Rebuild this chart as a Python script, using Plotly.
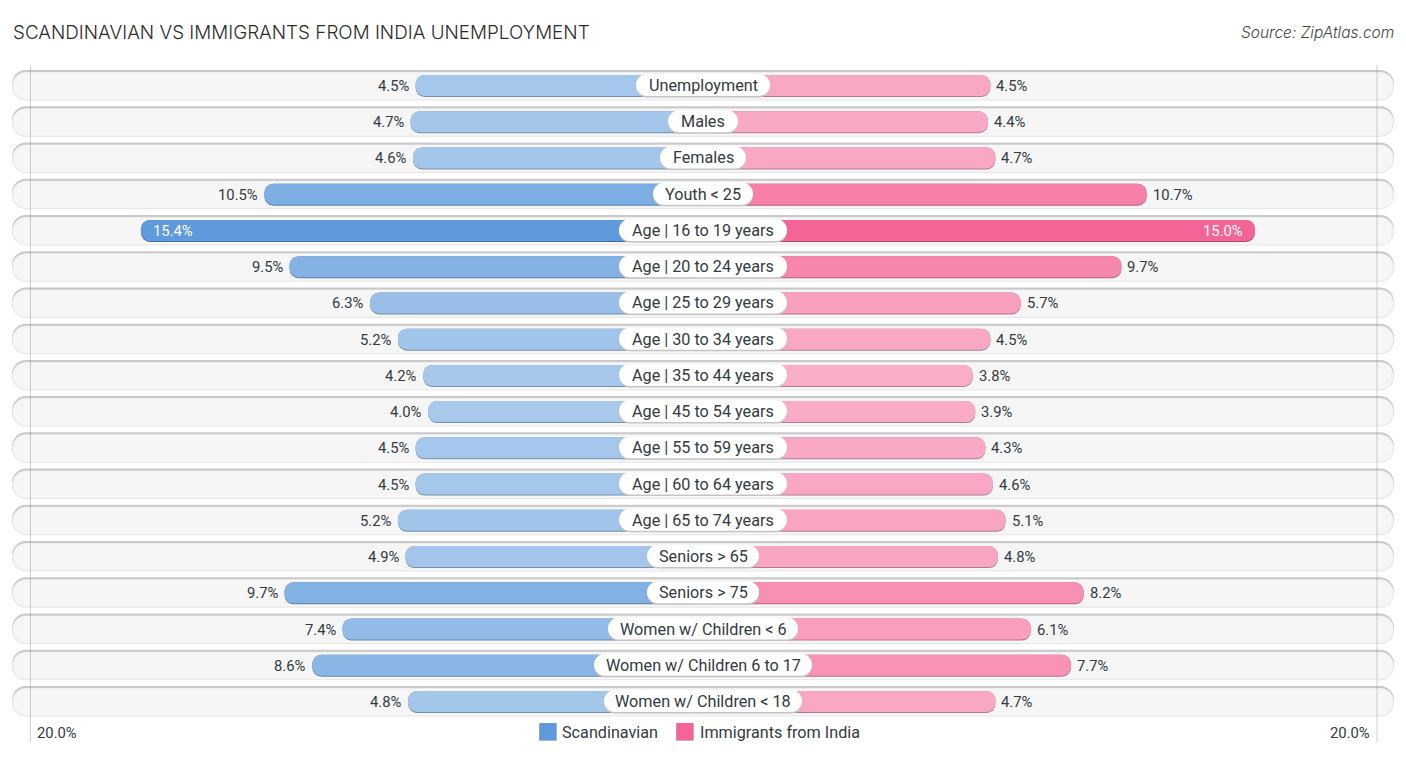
import plotly.graph_objects as go

categories = ["Unemployment", "Males", "Females", "Youth < 25", "Age | 16 to 19 years", "Age | 20 to 24 years",
              "Age | 25 to 29 years", "Age | 30 to 34 years", "Age | 35 to 44 years", "Age | 45 to 54 years",
              "Age | 55 to 59 years", "Age | 60 to 64 years", "Age | 65 to 74 years", "Seniors > 65", "Seniors > 75",
              "Women w/ Children < 6", "Women w/ Children 6 to 17", "Women w/ Children < 18"]
scandinavian = [4.5, 4.7, 4.6, 10.5, 15.4, 9.5, 6.3, 5.2, 4.2, 4.0, 4.5, 4.5, 5.2, 4.9, 9.7, 7.4, 8.6, 4.8]
india = [4.5, 4.4, 4.7, 10.7, 15.0, 9.7, 5.7, 4.5, 3.8, 3.9, 4.3, 4.6, 5.1, 4.8, 8.2, 6.1, 7.7, 4.7]
series_names = ["Scandinavian", "Immigrants from India"]
axis_label = "20.0%"

W, H = 1406, 757
PX = 25.2            # pixels per percentage point
GAP = 174 / PX       # bars start behind the centre pill
ROW0, PITCH = 85.5, 36.235
TEXT = "#333a41"
FONT = "Roboto"
BLUE, PINK = (95, 155, 220), (245, 100, 150)
PILL_HALF = {"Unemployment": 67, "Males": 35, "Females": 43, "Youth < 25": 50, "Seniors > 65": 56, "Seniors > 75": 56,
             "Women w/ Children < 6": 95, "Women w/ Children 6 to 17": 109, "Women w/ Children < 18": 99}


def shade(rgb, v, k=1.0):
    a = min(1, 0.54 + (v - 4) / 11 * 0.46)
    c = [round((255 + (ch - 255) * a) * k) for ch in rgb]
    return f"rgb({c[0]},{c[1]},{c[2]})"


fig = go.Figure()
n = len(categories)
rows = list(range(n))
track = 691 / PX


def band(x, base, width, color, radius, offset=None, **kw):
    fig.add_trace(go.Bar(y=rows, x=x, base=base, orientation="h", width=width, offset=offset,
                         marker=dict(color=color, cornerradius=radius, line=dict(width=0)),
                         showlegend=False, hoverinfo="skip", **kw))


# tracks: shadow edge on top, rim, fill
band([2 * track] * n, -track, 29 / PITCH, "#c9c9c9", 14, offset=-15.5 / PITCH)
band([2 * track] * n, -track, 28.5 / PITCH, "#e6e6e6", 14, offset=-13.5 / PITCH)
band([2 * track - 0.08] * n, -track + 0.04, 27 / PITCH, "#f6f6f6", 14, offset=-13 / PITCH)

for vals, rgb, sign, name in [(scandinavian, BLUE, -1, series_names[0]), (india, PINK, 1, series_names[1])]:
    lengths = [sign * (v + GAP) for v in vals]
    band(lengths, 0, 22 / PITCH, [shade(rgb, v, 0.72) for v in vals], 9, offset=-10.5 / PITCH)
    fig.add_trace(go.Bar(y=rows, x=lengths, base=0, orientation="h", width=21 / PITCH, offset=-10.5 / PITCH,
                         marker=dict(color=[shade(rgb, v) for v in vals], cornerradius=9, line=dict(width=0)),
                         name=name, showlegend=False, customdata=vals,
                         hovertemplate="%{customdata:.1f}%<extra>" + name + "</extra>"))
    top = max(vals)
    for r, v, L in zip(rows, vals, lengths):
        inside = v == top
        fig.add_annotation(x=L, y=r, text=f"{v:.1f}%", showarrow=False, yshift=-0.5,
                           xanchor=("left" if sign < 0 else "right") if inside else ("right" if sign < 0 else "left"),
                           xshift=(-sign * 10 if inside else sign * 4),
                           font=dict(family=FONT, size=14.8, color="#ffffff" if inside else TEXT))

half = [PILL_HALF.get(c, 84) / PX for c in categories]
band([2 * h for h in half], [-h for h in half], 23 / PITCH, "#c4c4c4", 11, offset=-11 / PITCH)
band([2 * h for h in half], [-h for h in half], 22 / PITCH, "#ffffff", 11, offset=-11.5 / PITCH)
for r, c in zip(rows, categories):
    fig.add_annotation(x=0, y=r, text=c, showarrow=False, xanchor="center", yanchor="middle", yshift=0,
                       font=dict(family=FONT, size=16.2, color=TEXT))

for px in (30.5, 1377):
    fig.add_shape(type="line", xref="paper", yref="paper", x0=px / W, x1=px / W, y0=1 - 65 / H, y1=1 - 742 / H,
                  line=dict(color="rgba(120,120,120,0.35)", width=1), layer="above")

# legend
for name, rgb, x0, tx in zip(series_names, (BLUE, PINK), (539.5, 676.5), (560, 698)):
    fig.add_shape(type="rect", xref="paper", yref="paper", x0=(x0 - 0.5) / W, x1=(x0 + 17) / W, y0=1 - 741 / H, y1=1 - 724 / H,
                  line=dict(width=0), fillcolor="#b5b5b5", layer="above")
    fig.add_shape(type="rect", xref="paper", yref="paper", x0=x0 / W, x1=(x0 + 17) / W, y0=1 - 740 / H, y1=1 - 723 / H,
                  line=dict(width=0), fillcolor=f"rgb({rgb[0]},{rgb[1]},{rgb[2]})", layer="above")
    fig.add_annotation(xref="paper", yref="paper", x=tx / W, y=1 - 732.5 / H, xanchor="left", yanchor="middle", showarrow=False,
                       text=name, font=dict(family=FONT, size=16.2, color=TEXT))

fig.add_annotation(xref="paper", yref="paper", x=11 / W, y=1 - 32 / H, xanchor="left", yanchor="middle", showarrow=False,
                   text="SCANDINAVIAN VS IMMIGRANTS FROM INDIA UNEMPLOYMENT",
                   font=dict(family="Inter", size=18.85, color="#2b2b2b", weight=300))
fig.add_annotation(xref="paper", yref="paper", x=1396 / W, y=1 - 32 / H, xanchor="right", yanchor="middle", showarrow=False,
                   text="<i>Source: ZipAtlas.com</i>", font=dict(family="Inter", size=15.5, color="#444444", weight=300))
fig.add_annotation(xref="paper", yref="paper", x=35 / W, y=1 - 733 / H, xanchor="left", yanchor="middle", showarrow=False,
                   text=axis_label, font=dict(family=FONT, size=14.8, color=TEXT))
fig.add_annotation(xref="paper", yref="paper", x=1372 / W, y=1 - 733 / H, xanchor="right", yanchor="middle", showarrow=False,
                   text=axis_label, font=dict(family=FONT, size=14.8, color=TEXT))

fig.update_layout(
    width=W, height=H, margin=dict(l=0, r=0, t=0, b=0), paper_bgcolor="#ffffff", plot_bgcolor="#ffffff",
    barmode="overlay", font=dict(family=FONT, color=TEXT), showlegend=False,
    xaxis=dict(range=[-W / 2 / PX, W / 2 / PX], visible=False, fixedrange=True),
    yaxis=dict(range=[(H - ROW0) / PITCH, -ROW0 / PITCH], visible=False, fixedrange=True),
)
fig.write_html("out.html", config={"displayModeBar": False}, post_script="document.body.style.margin='0';")
